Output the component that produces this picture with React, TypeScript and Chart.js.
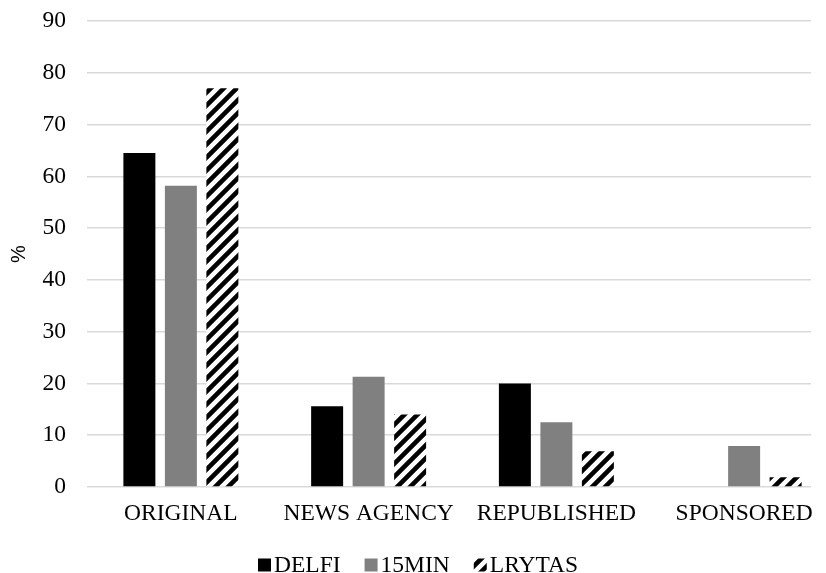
import React, { useEffect, useRef } from "react";
import { Chart, registerables } from "chart.js";

Chart.register(...registerables);

const categories = ["ORIGINAL", "NEWS AGENCY", "REPUBLISHED", "SPONSORED"];
const delfi = [64.5, 15.6, 20.0, 0];
const min15 = [58.2, 21.3, 12.5, 7.9];
const lrytas = [77.0, 14.0, 6.9, 1.9];
const yTicks = [0, 10, 20, 30, 40, 50, 60, 70, 80, 90];
const seriesNames = ["DELFI", "15MIN", "LRYTAS"];

const SERIF = "'Liberation Serif', 'Times New Roman', serif";
const FONT_SIZE = 23.5;
const VIEW_W = 826;
const CANVAS_W = 840;
const H = 573;
const GRID_END_X = 811;

function makeHatch(): CanvasPattern | string {
  const size = 13;
  const c = document.createElement("canvas");
  c.width = size;
  c.height = size;
  const ctx = c.getContext("2d");
  if (!ctx) return "#000";
  ctx.fillStyle = "#fff";
  ctx.fillRect(0, 0, size, size);
  ctx.strokeStyle = "#000";
  ctx.lineWidth = 4.6;
  ctx.beginPath();
  for (let k = -1; k <= 1; k++) {
    ctx.moveTo(k * size - 2, size + 2);
    ctx.lineTo(k * size + size + 2, -2);
  }
  ctx.stroke();
  const p = ctx.createPattern(c, "repeat");
  return p || "#000";
}

export default function App() {
  const ref = useRef<HTMLCanvasElement | null>(null);
  useEffect(() => {
    if (!ref.current) return;
    const hatch = makeHatch();
    const fills: any[] = ["#000000", "#808080", hatch];

    const gridClip = {
      id: "gridClip",
      beforeDatasetsDraw(chart: any) {
        const ctx = chart.ctx as CanvasRenderingContext2D;
        const a = chart.chartArea;
        ctx.save();
        ctx.fillStyle = "#fff";
        ctx.fillRect(GRID_END_X, a.top - 3, chart.width - GRID_END_X, a.bottom - a.top + 6);
        ctx.restore();
      },
    };

    const legendPlugin = {
      id: "customLegend",
      afterDraw(chart: any) {
        const ctx = chart.ctx as CanvasRenderingContext2D;
        ctx.save();
        ctx.font = `${FONT_SIZE}px ${SERIF}`;
        ctx.textBaseline = "middle";
        const box = 13;
        const gap = 3;
        const spacing = 24;
        const widths = seriesNames.map((n) => ctx.measureText(n).width);
        const total =
          widths.reduce((a, w) => a + box + gap + w, 0) + spacing * (seriesNames.length - 1);
        let x = VIEW_W / 2 + 5 - total / 2;
        const cy = chart.height - 8;
        seriesNames.forEach((name, i) => {
          ctx.fillStyle = fills[i];
          ctx.fillRect(x, cy - box / 2, box, box);
          ctx.fillStyle = "#000";
          ctx.fillText(name, x + box + gap, cy + 1);
          x += box + gap + widths[i] + spacing;
        });
        ctx.restore();
      },
    };

    const chart = new Chart(ref.current, {
      type: "bar",
      data: {
        labels: categories,
        datasets: [
          { label: seriesNames[0], data: delfi, backgroundColor: fills[0], borderWidth: 0 },
          { label: seriesNames[1], data: min15, backgroundColor: fills[1], borderWidth: 0 },
          { label: seriesNames[2], data: lrytas, backgroundColor: fills[2], borderWidth: 0 },
        ],
      },
      plugins: [gridClip, legendPlugin],
      options: {
        animation: false,
        responsive: false,
        maintainAspectRatio: false,
        layout: { padding: { left: 0, right: 2, top: 21, bottom: 0 } },
        datasets: {
          bar: { categoryPercentage: 0.663, barPercentage: 0.771 },
        },
        plugins: {
          tooltip: { enabled: false },
          legend: { display: false },
        },
        scales: {
          x: {
            grid: { display: false },
            border: { display: false },
            afterFit: (axis: any) => {
              axis.height = 86;
              axis.paddingLeft = 0;
              axis.paddingRight = 0;
            },
            ticks: {
              font: { family: SERIF, size: FONT_SIZE },
              color: "#000",
              padding: 5,
              maxRotation: 0,
            },
          },
          y: {
            min: 0,
            max: 90,
            afterBuildTicks: (axis: any) => {
              axis.ticks = yTicks.map((v) => ({ value: v }));
            },
            afterFit: (axis: any) => {
              axis.width = 87;
              axis.paddingTop = 0;
              axis.paddingBottom = 0;
            },
            grid: { color: "#d9d9d9", lineWidth: 1.5, drawTicks: false },
            border: { display: false },
            title: {
              display: true,
              text: "%",
              font: { family: "'Liberation Sans', Arial, sans-serif", size: 20 },
              color: "#000",
              padding: { top: 7, bottom: 0 },
            },
            ticks: {
              font: { family: SERIF, size: FONT_SIZE },
              color: "#000",
              padding: 21,
            },
          },
        },
      },
    });
    return () => chart.destroy();
  }, []);
  return (
    <div
      style={{
        position: "fixed",
        left: 0,
        top: 0,
        width: VIEW_W,
        height: H,
        overflow: "hidden",
        background: "#fff",
      }}
    >
      <canvas ref={ref} width={CANVAS_W} height={H} style={{ width: CANVAS_W, height: H }} />
    </div>
  );
}
